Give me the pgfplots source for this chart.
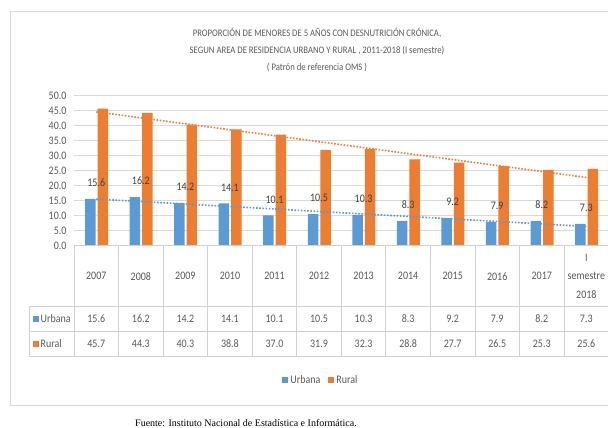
\documentclass[border=0pt]{standalone}
\usepackage{fontspec}
\setmainfont{Carlito}[FakeStretch=0.87]
\newfontfamily\notefont{Liberation Serif}
\usepackage{pgfplots}
\usepackage{pgfplotstable}
\pgfplotsset{compat=1.18}

\definecolor{urb}{HTML}{5B9BD5}
\definecolor{rur}{HTML}{ED7D31}
\definecolor{txt}{HTML}{595959}
\definecolor{lbl}{HTML}{404040}
\definecolor{gridc}{HTML}{D9D9D9}
\definecolor{linec}{HTML}{D0D0D0}

% Desnutricion cronica en menores de 5 anos (%), por area de residencia
\pgfplotstableread{
x  urb  rur
1  15.6 45.7
2  16.2 44.3
3  14.2 40.3
4  14.1 38.8
5  10.1 37.0
6  10.5 31.9
7  10.3 32.3
8  8.3  28.8
9  9.2  27.7
10 7.9  26.5
11 8.2  25.3
12 7.3  25.6
}\datos

\newcommand{\tfont}{\fontsize{11.5}{14}\selectfont}

\pgfplotsset{
  valor/.style={
    nodes near coords={\pgfmathprintnumber[fixed,fixed zerofill,precision=1]{\pgfplotspointmeta}},
    every node near coord/.append style={anchor=center, font=\tfont, #1}},
}

\begin{document}
\begin{tikzpicture}
\path[use as bounding box] (0,0) rectangle (608pt,-428pt);

% marco del grafico
\draw[gridc, line width=1pt] (640pt,-12pt) -- (10pt,-12pt) -- (10pt,-405pt) -- (640pt,-405pt);

% titulo
\node[align=center, text=txt, font=\fontsize{10}{17}\selectfont] at (317pt,-50pt)
  {PROPORCIÓN DE MENORES DE 5 AÑOS CON DESNUTRICIÓN CRÓNICA,\\
   SEGUN AREA DE RESIDENCIA URBANO Y RURAL , 2011-2018 (I semestre)\\
   ( Patrón de referencia OMS )};

\begin{axis}[
  at={(74pt,-245.7pt)}, anchor=south west,
  scale only axis, width=534.6pt, height=150pt,
  xmin=0.5, xmax=12.5, ymin=0, ymax=50,
  clip=false,
  axis line style={draw=none},
  major tick length=0pt,
  ytick={0,5,...,50},
  ymajorgrids, grid style={gridc, line width=0.8pt},
  /pgf/number format/assume math mode=true,
  yticklabel style={text=txt, font=\tfont, xshift=-4pt,
    /pgf/number format/.cd, fixed, fixed zerofill, precision=1},
  xtick={1,...,12},
  xticklabels={2007,2008,2009,2010,2011,2012,2013,2014,2015,2016,2017,{I\\[4.3pt]semestre\\[4.3pt]2018}},
  xticklabel style={text=txt, font=\tfont, align=center, anchor=center, yshift=-30.5pt},
  legend columns=2,
  legend style={at={(0.462,-0.895)}, anchor=center, draw=none, fill=none,
    text=txt, font=\tfont,
    /tikz/every even column/.append style={column sep=6pt}},
  legend image code/.code={\fill[#1] (0pt,-3pt) rectangle (6pt,3pt);},
]

% barras
\addplot[ybar, bar width=10.5pt, bar shift=-6pt, fill=urb, draw=none,
  valor={yshift=16pt, text=lbl}]
  table[x=x, y=urb] {\datos};
\addlegendentry{Urbana}
\addplot[ybar, bar width=10.5pt, bar shift=6.5pt, fill=rur, draw=none]
  table[x=x, y=rur] {\datos};
\addlegendentry{Rural}

% lineas de tendencia (regresion lineal)
\addplot[urb, line width=1.6pt, dash pattern=on 1.6pt off 1.6pt, forget plot]
  table[x=x, y={create col/linear regression={y=urb}}] {\datos};
\addplot[rur, line width=1.6pt, dash pattern=on 1.6pt off 1.6pt, forget plot]
  table[x=x, y={create col/linear regression={y=rur}}] {\datos};

% tabla de datos
\draw[linec, line width=0.8pt] (axis cs:0.5,0) -- (axis cs:12.5,0);
\pgfplotsinvokeforeach{0.5,1.5,...,12.5}{
  \draw[linec, line width=0.8pt] (axis cs:#1,0) -- (axis cs:#1,-36.77);
}
\draw[linec, line width=0.8pt] (axis cs:-0.51,-20.33) -- (axis cs:12.5,-20.33);
\draw[linec, line width=0.8pt] (axis cs:-0.51,-28.43) -- (axis cs:12.5,-28.43);
\draw[linec, line width=0.8pt] (axis cs:-0.51,-36.77) -- (axis cs:12.5,-36.77);
\draw[linec, line width=0.8pt] (axis cs:-0.51,-20.33) -- (axis cs:-0.51,-36.77);

\addplot[only marks, mark=none, forget plot, point meta=explicit, valor={text=txt}]
  table[x=x, y expr=-24.4, meta=urb] {\datos};
\addplot[only marks, mark=none, forget plot, point meta=explicit, valor={text=txt}]
  table[x=x, y expr=-32.6, meta=rur] {\datos};
\end{axis}

% rotulos de filas
\fill[urb] (33pt,-316pt) rectangle (39pt,-322pt);
\node[anchor=west, inner sep=0pt, text=txt, font=\tfont] at (40.5pt,-319pt) {Urbana};
\fill[rur] (33pt,-340.5pt) rectangle (39pt,-346.5pt);
\node[anchor=west, inner sep=0pt, text=txt, font=\tfont] at (40.5pt,-343.5pt) {Rural};

% fuente
\node[anchor=base west, inner sep=0pt, font=\notefont\fontsize{10}{12}\selectfont]
  at (135pt,-426pt) {Fuente: Instituto Nacional de Estadística e Informática.};
\end{tikzpicture}
\end{document}
